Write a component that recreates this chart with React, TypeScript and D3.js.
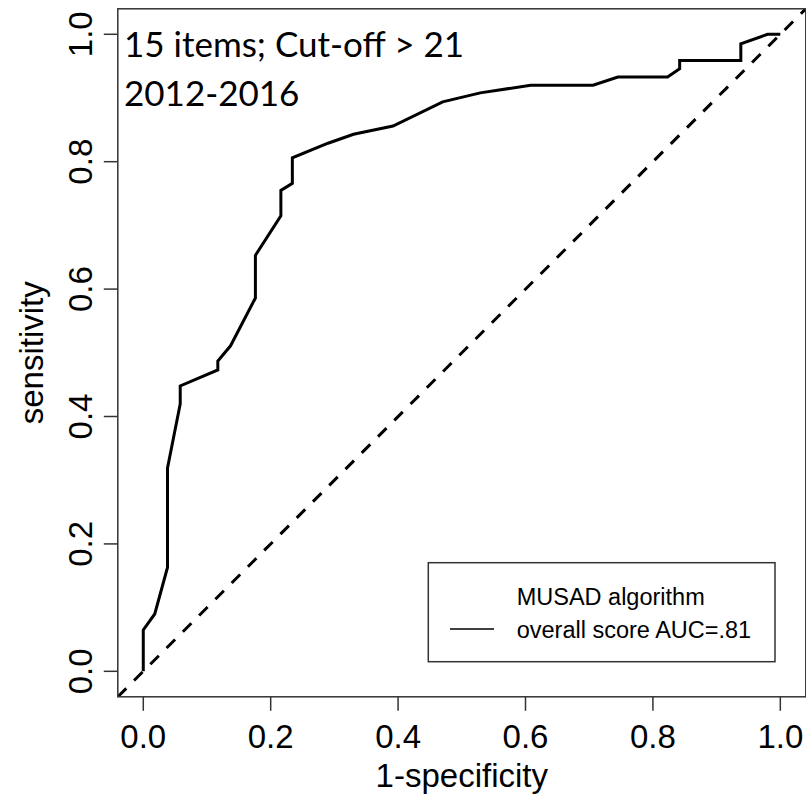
import React from "react";
import * as d3 from "d3";

// ROC curve: false positive rate (1-specificity) vs true positive rate (sensitivity)
const fpr = [0, 0, 0.018, 0.038, 0.038, 0.058, 0.058, 0.117, 0.117, 0.137, 0.176, 0.176, 0.216, 0.216, 0.234, 0.234, 0.29, 0.33, 0.392, 0.47, 0.529, 0.608, 0.706, 0.745, 0.823, 0.842, 0.842, 0.938, 0.938, 0.98, 1];
const tpr = [0, 0.065, 0.09, 0.163, 0.319, 0.42, 0.448, 0.473, 0.487, 0.511, 0.586, 0.653, 0.715, 0.755, 0.766, 0.806, 0.829, 0.843, 0.856, 0.894, 0.908, 0.92, 0.92, 0.933, 0.933, 0.946, 0.959, 0.959, 0.985, 1.0, 1.0];

const xTicks = [0, 0.2, 0.4, 0.6, 0.8, 1.0];
const yTicks = [0, 0.2, 0.4, 0.6, 0.8, 1.0];

const titleLines = ["15 items; Cut-off > 21", "2012-2016"];
const legendLines = ["MUSAD algorithm", "overall score AUC=.81"];
const xLabel = "1-specificity";
const yLabel = "sensitivity";

const W = 806;
const H = 798;

export default function App() {
  // data range padded by 4% on each side, as in base R graphics
  const x = d3.scaleLinear().domain([-0.04, 1.04]).range([117.8, 805.8]);
  const y = d3.scaleLinear().domain([-0.04, 1.04]).range([696.8, 8.8]);

  const pts: [number, number][] = fpr.map((f, i) => [f, tpr[i]]);
  const line = d3
    .line<[number, number]>()
    .x((d) => x(d[0]))
    .y((d) => y(d[1]));

  const [x0, x1] = x.range();
  const [y0, y1] = y.range();
  const fmt = d3.format(".1f");
  const axisFont = "Arial, 'Liberation Sans', sans-serif";
  const axisColor = "#333";

  return (
    <svg
      width={W}
      height={H}
      viewBox={`0 0 ${W} ${H}`}
      style={{ position: "absolute", left: 0, top: 0, background: "#fff" }}
    >
      <defs>
        <clipPath id="plotArea">
          <rect x={x0} y={y1} width={x1 - x0} height={y0 - y1} />
        </clipPath>
      </defs>

      {/* chance diagonal */}
      <line
        x1={x(-0.04)}
        y1={y(-0.04)}
        x2={x(1.04)}
        y2={y(1.04)}
        stroke="#000"
        strokeWidth={3}
        strokeDasharray="12 11"
        clipPath="url(#plotArea)"
      />

      {/* ROC curve */}
      <path
        d={line(pts) ?? ""}
        fill="none"
        stroke="#000"
        strokeWidth={3}
        strokeLinejoin="miter"
        clipPath="url(#plotArea)"
      />

      {/* plot frame */}
      <rect
        x={x0}
        y={y1}
        width={x1 - x0}
        height={y0 - y1}
        fill="none"
        stroke={axisColor}
        strokeWidth={1.5}
      />

      {/* x axis */}
      <g>
        {xTicks.map((t) => (
          <g key={`xt${t}`}>
            <line x1={x(t)} x2={x(t)} y1={y0} y2={y0 + 14} stroke={axisColor} strokeWidth={1.5} />
            <text
              x={x(t)}
              y={748}
              textAnchor="middle"
              fontFamily={axisFont}
              fontSize={33}
              fill="#000"
            >
              {fmt(t)}
            </text>
          </g>
        ))}
        <text
          x={(x(0) + x(1)) / 2}
          y={787}
          textAnchor="middle"
          fontFamily={axisFont}
          fontSize={33}
          fill="#000"
        >
          {xLabel}
        </text>
      </g>

      {/* y axis */}
      <g>
        {yTicks.map((t) => (
          <g key={`yt${t}`}>
            <line x1={x0 - 14} x2={x0} y1={y(t)} y2={y(t)} stroke={axisColor} strokeWidth={1.5} />
            <text
              transform={`translate(92,${y(t)}) rotate(-90)`}
              textAnchor="middle"
              fontFamily={axisFont}
              fontSize={33}
              fill="#000"
            >
              {fmt(t)}
            </text>
          </g>
        ))}
        <text
          transform={`translate(43,${(y(0) + y(1)) / 2}) rotate(-90)`}
          textAnchor="middle"
          fontFamily={axisFont}
          fontSize={33}
          fill="#000"
        >
          {yLabel}
        </text>
      </g>

      {/* annotation */}
      {titleLines.map((s, i) => (
        <text
          key={s}
          x={124}
          y={57 + i * 48.5}
          fontFamily="Lato, 'Open Sans', sans-serif"
          fontSize={35}
          fill="#000"
        >
          {s}
        </text>
      ))}

      {/* legend */}
      <g>
        <rect x={428.3} y={562.7} width={346.7} height={99} fill="#fff" stroke={axisColor} strokeWidth={1.5} />
        <line x1={450} x2={494} y1={629} y2={629} stroke="#000" strokeWidth={1.3} />
        {legendLines.map((s, i) => (
          <text
            key={s}
            x={516.7}
            y={605 + i * 32.7}
            fontFamily={axisFont}
            fontSize={23.5}
            fill="#000"
          >
            {s}
          </text>
        ))}
      </g>
    </svg>
  );
}
